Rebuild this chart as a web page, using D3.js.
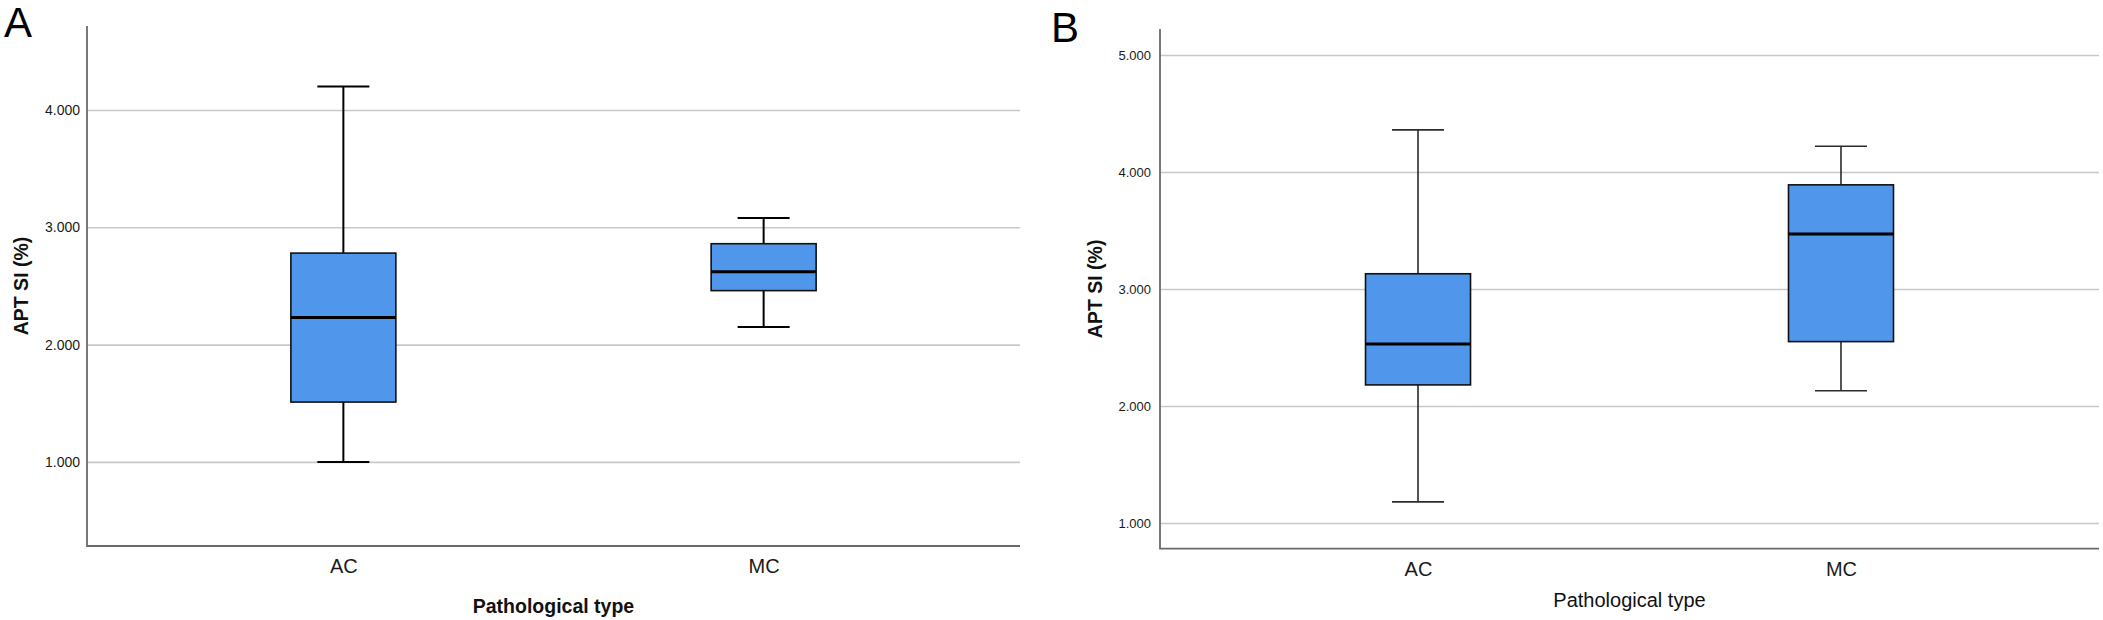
<!DOCTYPE html>
<html>
<head>
<meta charset="utf-8">
<title>APT SI boxplots</title>
<script src="https://cdn.jsdelivr.net/npm/d3@7"></script>
<style>
  body { margin: 0; background: #fff; font-family: "Liberation Sans", Arial, sans-serif; }
</style>
</head>
<body>
<div id="chart"></div>
<script>
// ----- data -----
const categories = ['AC', 'MC'];

// panel A
const minA = [1.00, 2.15];
const q1A  = [1.51, 2.46];
const medA = [2.23, 2.62];
const q3A  = [2.78, 2.86];
const maxA = [4.20, 3.08];
const ticksA = [1, 2, 3, 4];

// panel B
const minB = [1.18, 2.13];
const q1B  = [2.18, 2.55];
const medB = [2.53, 3.47];
const q3B  = [3.13, 3.89];
const maxB = [4.36, 4.22];
const ticksB = [1, 2, 3, 4, 5];

const yTitle = 'APT SI (%)';
const xTitle = 'Pathological type';

// ----- setup -----
const width = 2103, height = 620;
const svg = d3.select('#chart').append('svg')
  .attr('width', width).attr('height', height);

function rows(mins, q1s, meds, q3s, maxs) {
  return categories.map((c, i) => ({
    cat: c, min: mins[i], q1: q1s[i], med: meds[i], q3: q3s[i], max: maxs[i]
  }));
}

function drawPanel(opt) {
  const g = svg.append('g');
  const x = d3.scalePoint().domain(categories)
    .range([opt.left, opt.right]).padding(0.61);
  const y = d3.scaleLinear().domain(opt.yDomain).range([opt.bottom, opt.top]);

  // gridlines + tick labels
  const ya = g.append('g')
    .attr('transform', `translate(${opt.left},0)`)
    .call(d3.axisLeft(y).tickValues(opt.ticks)
      .tickFormat(d3.format('.3f'))
      .tickSize(-(opt.right - opt.left)).tickPadding(opt.tickPad));
  ya.select('.domain').remove();
  ya.selectAll('.tick line').attr('stroke', '#c8c8c8').attr('stroke-width', 1.6);
  ya.selectAll('.tick text')
    .attr('fill', '#1a1a1a')
    .style('font-size', opt.tickFont + 'px')
    .style('font-weight', opt.tickWeight);

  // category labels
  const xa = g.append('g')
    .attr('transform', `translate(0,${opt.bottom})`)
    .call(d3.axisBottom(x).tickSize(0).tickPadding(13));
  xa.select('.domain').remove();
  xa.selectAll('.tick text')
    .attr('fill', '#1a1a1a')
    .style('font-size', '20px');

  // axis lines (left + bottom)
  g.append('path')
    .attr('d', `M${opt.left},${opt.top}V${opt.bottom}H${opt.right}`)
    .attr('fill', 'none').attr('stroke', '#6a6a6a').attr('stroke-width', 1.8);

  // boxes
  const boxW = 105, capW = 52;
  const b = g.selectAll('.box').data(opt.data).enter().append('g');
  b.append('line')
    .attr('x1', d => x(d.cat)).attr('x2', d => x(d.cat))
    .attr('y1', d => y(d.max)).attr('y2', d => y(d.min))
    .attr('stroke', opt.whisker).attr('stroke-width', opt.whiskerW);
  b.selectAll('.cap').data(d => [[d.cat, d.max], [d.cat, d.min]]).enter()
    .append('line')
    .attr('x1', d => x(d[0]) - capW / 2).attr('x2', d => x(d[0]) + capW / 2)
    .attr('y1', d => y(d[1])).attr('y2', d => y(d[1]))
    .attr('stroke', opt.whisker).attr('stroke-width', opt.whiskerW);
  b.append('rect')
    .attr('x', d => x(d.cat) - boxW / 2).attr('width', boxW)
    .attr('y', d => y(d.q3)).attr('height', d => y(d.q1) - y(d.q3))
    .attr('fill', '#5096ea').attr('stroke', '#111').attr('stroke-width', 1.6);
  b.append('line')
    .attr('x1', d => x(d.cat) - boxW / 2).attr('x2', d => x(d.cat) + boxW / 2)
    .attr('y1', d => y(d.med)).attr('y2', d => y(d.med))
    .attr('stroke', '#000').attr('stroke-width', 3);

  // titles
  const ymid = (opt.top + opt.bottom) / 2;
  g.append('text')
    .attr('transform', `translate(${opt.yTitleX},${ymid}) rotate(-90)`)
    .attr('text-anchor', 'middle')
    .style('font-size', '19.5px').style('font-weight', 'bold')
    .attr('fill', '#111')
    .text(yTitle);
  g.append('text')
    .attr('x', (opt.left + opt.right) / 2).attr('y', opt.xTitleY)
    .attr('text-anchor', 'middle')
    .style('font-size', opt.xTitleSize + 'px').style('font-weight', opt.xTitleWeight)
    .attr('fill', '#111')
    .text(xTitle);

  // panel letter
  g.append('text')
    .attr('x', opt.letterX).attr('y', opt.letterY)
    .style('font-size', '42px').attr('fill', '#000')
    .text(opt.letter);
}

drawPanel({
  letter: 'A', letterX: 4, letterY: 37,
  left: 87, right: 1020, top: 26, bottom: 546,
  yDomain: [0.283, 4.716], ticks: ticksA,
  tickPad: 7, tickFont: 14, tickWeight: 'normal',
  whisker: '#000', whiskerW: 2,
  yTitleX: 28, xTitleY: 613, xTitleSize: 19.5, xTitleWeight: 'bold',
  data: rows(minA, q1A, medA, q3A, maxA)
});

drawPanel({
  letter: 'B', letterX: 1051, letterY: 42,
  left: 1160, right: 2099, top: 29, bottom: 548.7,
  yDomain: [0.780, 5.222], ticks: ticksB,
  tickPad: 9, tickFont: 13, tickWeight: 'normal',
  whisker: '#2b2b2b', whiskerW: 1.6,
  yTitleX: 1102, xTitleY: 607, xTitleSize: 20, xTitleWeight: 'normal',
  data: rows(minB, q1B, medB, q3B, maxB)
});
</script>
</body>
</html>
